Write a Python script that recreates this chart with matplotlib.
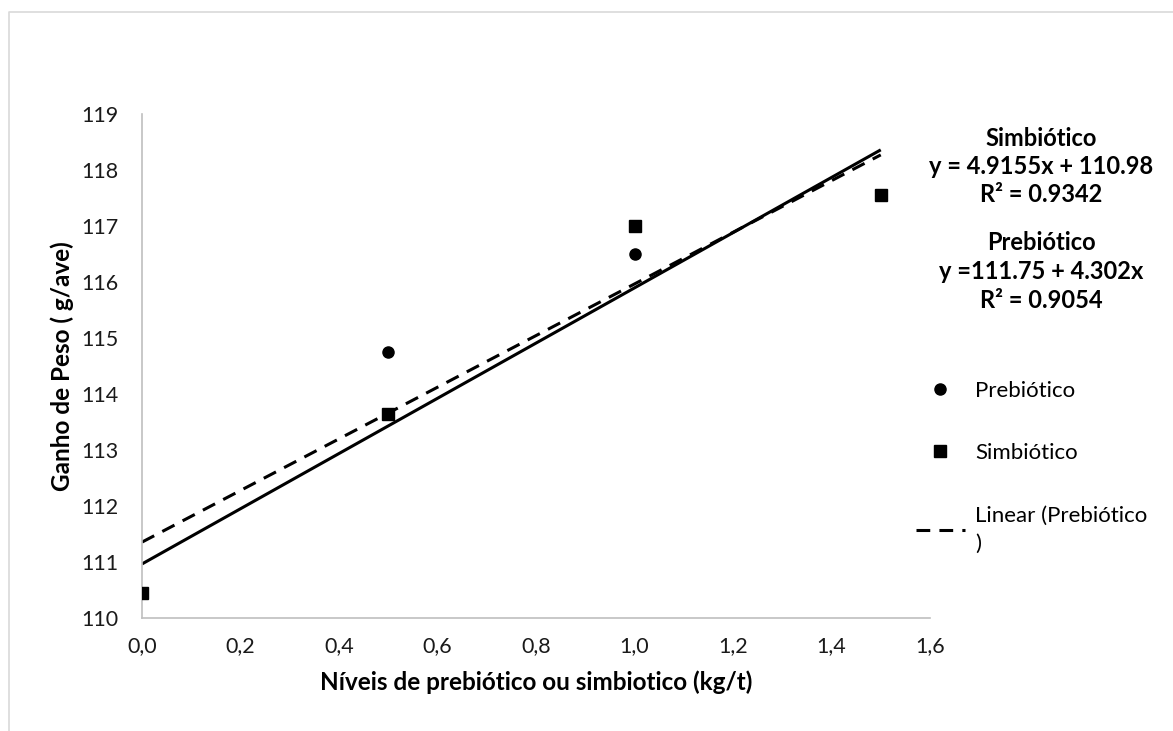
import numpy as np
import matplotlib.pyplot as plt
from matplotlib.lines import Line2D

# dados
niveis = [0.0, 0.5, 1.0, 1.5]
prebiotico = [110.45, 114.75, 116.5, 117.55]
simbiotico = [110.45, 113.65, 117.0, 117.55]

x_ticks = [0.0, 0.2, 0.4, 0.6, 0.8, 1.0, 1.2, 1.4, 1.6]
y_ticks = [110, 111, 112, 113, 114, 115, 116, 117, 118, 119]

eq_simb = ["Simbiótico", "y = 4.9155x + 110.98", "R² = 0.9342"]
eq_preb = ["Prebiótico", "y =111.75 + 4.302x", "R² = 0.9054"]

plt.rcParams['font.family'] = ['Lato', 'DejaVu Sans']

fig = plt.figure(figsize=(11.73, 7.31), dpi=100)
ax = fig.add_axes([142 / 1173, 1 - 618 / 731, (930 - 142) / 1173, (618 - 114) / 731])

x = np.array(niveis)
# linhas de tendência (ajuste linear)
cp = np.polyfit(x, prebiotico, 1)
cs = np.polyfit(x, simbiotico, 1)
xl = np.array([x.min(), x.max()])
ax.plot(xl, np.polyval(cs, xl), color='black', lw=2.2, solid_capstyle='butt', zorder=2)
ax.plot(xl, np.polyval(cp, xl), color='black', lw=2.2, ls=(0, (4.5, 3)), zorder=2)

ax.plot(x, prebiotico, 'o', color='black', ms=8, ls='none', zorder=3)
ax.plot(x, simbiotico, 's', color='black', ms=9, ls='none', zorder=4)

ax.set_xlim(0, 1.6)
ax.set_ylim(110, 119)
ax.set_xticks(x_ticks)
ax.set_xticklabels([f"{v:.1f}".replace('.', ',') for v in x_ticks])
ax.set_yticks(y_ticks)
ax.tick_params(length=0, labelsize=15.5, colors='#1a1a1a')
ax.tick_params(axis='y', pad=17)
ax.tick_params(axis='x', pad=13)
for s in ['top', 'right']:
    ax.spines[s].set_visible(False)
for s in ['left', 'bottom']:
    ax.spines[s].set_color('#BFBFBF')
    ax.spines[s].set_linewidth(1.2)

ax.set_xlabel("Níveis de prebiótico ou simbiotico (kg/t)", fontsize=17.5,
              fontweight='bold', labelpad=10)
ax.set_ylabel("Ganho de Peso ( g/ave)", fontsize=17.5, fontweight='bold', labelpad=5)

# equações
for i, t in enumerate(eq_simb):
    fig.text(1041 / 1173, 1 - (138 + 28.5 * i) / 731, t, ha='center', va='center',
             fontsize=17, fontweight='bold')
for i, t in enumerate(eq_preb):
    fig.text(1041 / 1173, 1 - (243 + 28.5 * i) / 731, t, ha='center', va='center',
             fontsize=17, fontweight='bold')

# legenda
handles = [
    Line2D([], [], marker='o', color='black', ls='none', ms=8),
    Line2D([], [], marker='s', color='black', ls='none', ms=9),
    Line2D([], [], color='black', lw=2.2, ls=(0, (4.5, 3))),
]
labels = ["Prebiótico", "Simbiótico", "Linear (Prebiótico\n)"]
leg = fig.legend(handles, labels, loc='upper left', bbox_to_anchor=(916 / 1173, 1 - 381 / 731),
                 frameon=False, fontsize=16, handlelength=2.2, handletextpad=0.45,
                 labelspacing=1.9, borderpad=0, borderaxespad=0)
leg.get_texts()[2].set_linespacing(1.55)

# moldura externa
fig.add_artist(Line2D([9 / 1173, 9 / 1173, 1.0], [0.0, 1 - 12 / 731, 1 - 12 / 731],
                      color='#D9D9D9', lw=1.2, transform=fig.transFigure))

fig.savefig('out.png', dpi=100)
